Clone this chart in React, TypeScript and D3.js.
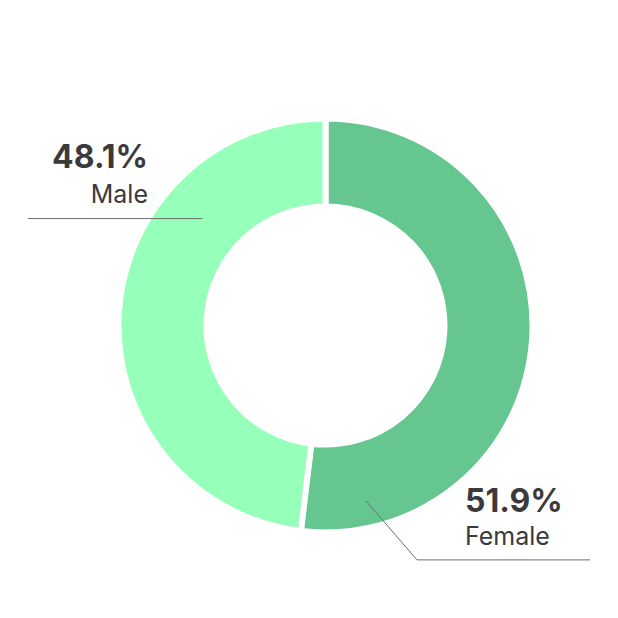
import React from "react";
import * as d3 from "d3";

const categories = ["Female", "Male"];
const values = [51.9, 48.1];
const valueLabels = ["51.9%", "48.1%"];
const colors = ["#66c68f", "#96ffb9"];
// leader anchor angles (degrees clockwise from top) and radial distance within the ring
const anchorAngles = [167, 311];
const anchorRadii = [180, 163];

const W = 618;
const H = 618;
const cx = 325.5;
const cy = 325.5;
const outerR = 207;
const innerR = 119;

export default function App() {
  const pie = d3.pie<number>().sort(null).value((d) => d);
  const arcs = pie(values);
  const arcGen = d3.arc<d3.PieArcDatum<number>>().innerRadius(innerR).outerRadius(outerR);

  const pt = (deg: number, r: number) => {
    const a = (deg * Math.PI) / 180;
    return [cx + r * Math.sin(a), cy - r * Math.cos(a)];
  };

  const fa = pt(anchorAngles[0], anchorRadii[0]);
  const ma = pt(anchorAngles[1], anchorRadii[1]);
  const fElbow = [fa[0] + 51, fa[1] + 59];
  const fEnd = [590, fElbow[1]];
  const mEnd = [28, ma[1]];

  return (
    <svg width={W} height={H} style={{ position: "absolute", left: 0, top: 0, background: "#fff" }}>
      <g transform={`translate(${cx},${cy})`}>
        {arcs.map((a, i) => (
          <path key={categories[i]} d={arcGen(a) || ""} fill={colors[i]} stroke="#fff" strokeWidth={6} strokeLinejoin="miter" />
        ))}
      </g>
      <polyline
        points={`${fa[0]},${fa[1]} ${fElbow[0]},${fElbow[1]} ${fEnd[0]},${fEnd[1]}`}
        fill="none"
        stroke="#6e6e6e"
        strokeWidth={1}
      />
      <polyline points={`${ma[0]},${ma[1]} ${mEnd[0]},${mEnd[1]}`} fill="none" stroke="#6e6e6e" strokeWidth={1} />
      <g fontFamily="Inter, 'Noto Sans', sans-serif" fill="#3a3a3c">
        <text x={148} y={168} textAnchor="end" fontSize={32} fontWeight={700}>{valueLabels[1]}</text>
        <text x={148} y={203} textAnchor="end" fontSize={25}>{categories[1]}</text>
        <text x={465} y={511.5} textAnchor="start" fontSize={32} fontWeight={700}>{valueLabels[0]}</text>
        <text x={465} y={545} textAnchor="start" fontSize={25}>{categories[0]}</text>
      </g>
    </svg>
  );
}
